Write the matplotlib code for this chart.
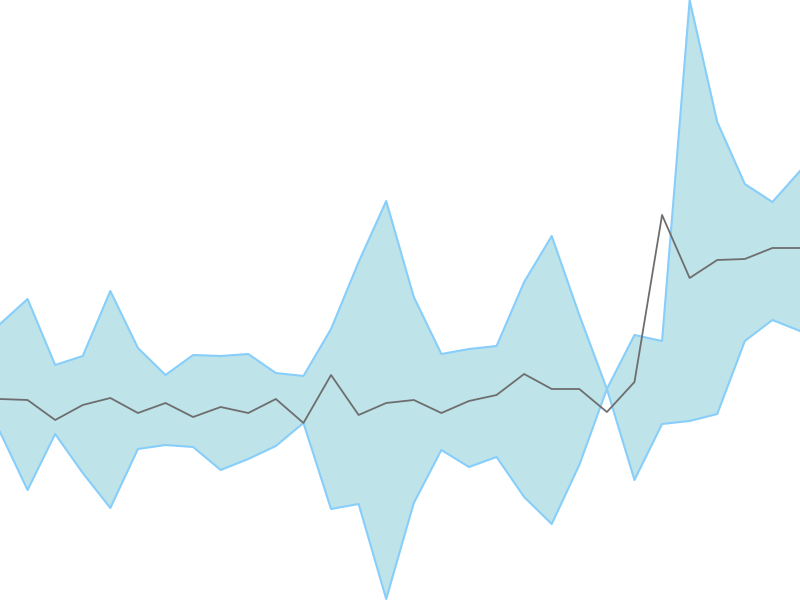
import numpy as np
import matplotlib
matplotlib.use('Agg')
import matplotlib.pyplot as plt

# 값 (위쪽이 큰 값)
upper = [276, 301, 235, 244, 309, 252, 225, 245, 244, 246, 227, 224, 271, 338, 399,
         303, 246, 251, 254, 318, 364, 285, 211, 265, 259, 600, 478, 416, 398, 429]
middle = [201, 200, 180, 195, 202, 187, 197, 183, 193, 187, 201, 177, 225, 185, 197,
          200, 187, 199, 205, 226, 211, 211, 188, 218, 385, 322, 340, 341, 352, 352]
lower = [168, 110, 166, 127, 92, 151, 155, 153, 130, 141, 154, 177, 91, 96, 1,
         97, 150, 133, 143, 103, 76, 135, 211, 120, 176, 179, 186, 259, 280, 269]

x = np.arange(len(middle))

fig = plt.figure(figsize=(8, 6), dpi=100)
ax = fig.add_axes([0, 0, 1, 1])
ax.fill_between(x, lower, upper, color='#bee3e9', linewidth=0)
ax.plot(x, upper, color='#87cefa', linewidth=1.5)
ax.plot(x, lower, color='#87cefa', linewidth=1.5)
ax.plot(x, middle, color='#6e6e6e', linewidth=1.3)

ax.set_xlim(0, len(x) - 1)
ax.set_ylim(0, 600)
ax.axis('off')

fig.savefig('out.png', dpi=100)
